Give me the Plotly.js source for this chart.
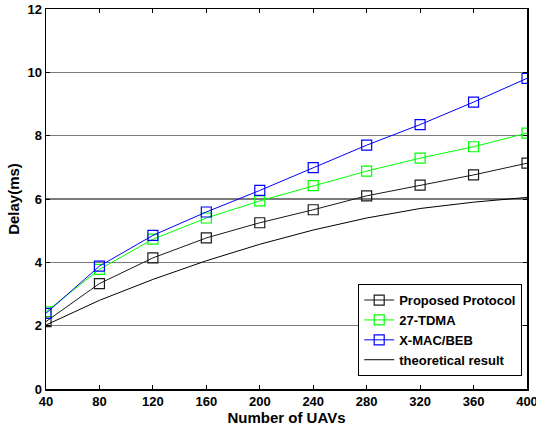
<!DOCTYPE html>
<html>
<head>
<meta charset="utf-8">
<script src="https://cdn.plot.ly/plotly-3.0.1.min.js"></script>
<style>html,body{margin:0;padding:0;background:#fff;}#chart{width:536px;height:426px;}</style>
</head>
<body>
<div id="chart"></div>
<script>
const uavs = [40, 80, 120, 160, 200, 240, 280, 320, 360, 400];
const proposed = [2.13, 3.33, 4.14, 4.77, 5.25, 5.66, 6.10, 6.44, 6.76, 7.13];
const tdma27 = [2.44, 3.78, 4.73, 5.40, 5.94, 6.42, 6.88, 7.29, 7.65, 8.08];
const xmac = [2.39, 3.88, 4.85, 5.59, 6.27, 6.99, 7.70, 8.35, 9.06, 9.81];
const theoretical = [2.02, 2.80, 3.46, 4.05, 4.57, 5.02, 5.40, 5.70, 5.90, 6.05];
const xTicks = [40, 80, 120, 160, 200, 240, 280, 320, 360, 400];
const yTicks = [0, 2, 4, 6, 8, 10, 12];

const FAM = 'Liberation Sans, Arial, sans-serif';
function markerTrace(name, y, color) {
  return {
    x: uavs, y: y, name: name, type: 'scatter', mode: 'lines+markers',
    line: {color: color, width: 1},
    marker: {symbol: 'square-open', size: 10, color: color, line: {width: 1.2, color: color}}
  };
}
const data = [
  markerTrace('Proposed Protocol', proposed, '#1a1a1a'),
  markerTrace('27-TDMA', tdma27, '#00ff00'),
  markerTrace('X-MAC/BEB', xmac, '#0000ff'),
  {x: uavs, y: theoretical, name: 'theoretical result', type: 'scatter', mode: 'lines',
   line: {color: '#000', width: 1}}
];
const layout = {
  width: 536, height: 426,
  margin: {l: 46, r: 9, t: 9, b: 37},
  paper_bgcolor: '#fff', plot_bgcolor: '#fff',
  font: {family: FAM, size: 13, color: '#000'},
  showlegend: true,
  legend: {
    x: 0.99, y: 0.034, xanchor: 'right', yanchor: 'bottom',
    bgcolor: '#fff', bordercolor: '#000', borderwidth: 1,
    font: {family: FAM, size: 13, color: '#000', weight: 'bold'},
    tracegroupgap: 0, itemwidth: 30
  },
  xaxis: {
    range: [40, 400], tickvals: xTicks, ticktext: xTicks.map(String),
    ticks: 'inside', ticklen: 4, tickcolor: '#000', mirror: 'ticks',
    showline: true, linecolor: '#000', linewidth: 1.5,
    showgrid: false, zeroline: false, ticklabeloverflow: 'allow',
    tickfont: {family: FAM, size: 13, color: '#000', weight: 'bold'},
    title: {text: 'Number of UAVs', standoff: 6,
            font: {family: FAM, size: 15, color: '#000', weight: 'bold'}}
  },
  yaxis: {
    range: [0, 12], tickvals: yTicks, ticktext: yTicks.map(String),
    ticks: 'inside', ticklen: 4, tickcolor: '#000', mirror: 'ticks',
    showline: true, linecolor: '#000', linewidth: 1.5,
    showgrid: true, gridcolor: '#7a7a7a', gridwidth: 1.5, zeroline: false,
    tickfont: {family: FAM, size: 13, color: '#000', weight: 'bold'},
    title: {text: 'Delay(ms)', standoff: 4,
            font: {family: FAM, size: 15, color: '#000', weight: 'bold'}}
  }
};
Plotly.newPlot('chart', data, layout, {displayModeBar: false, staticPlot: true});
</script>
</body>
</html>
